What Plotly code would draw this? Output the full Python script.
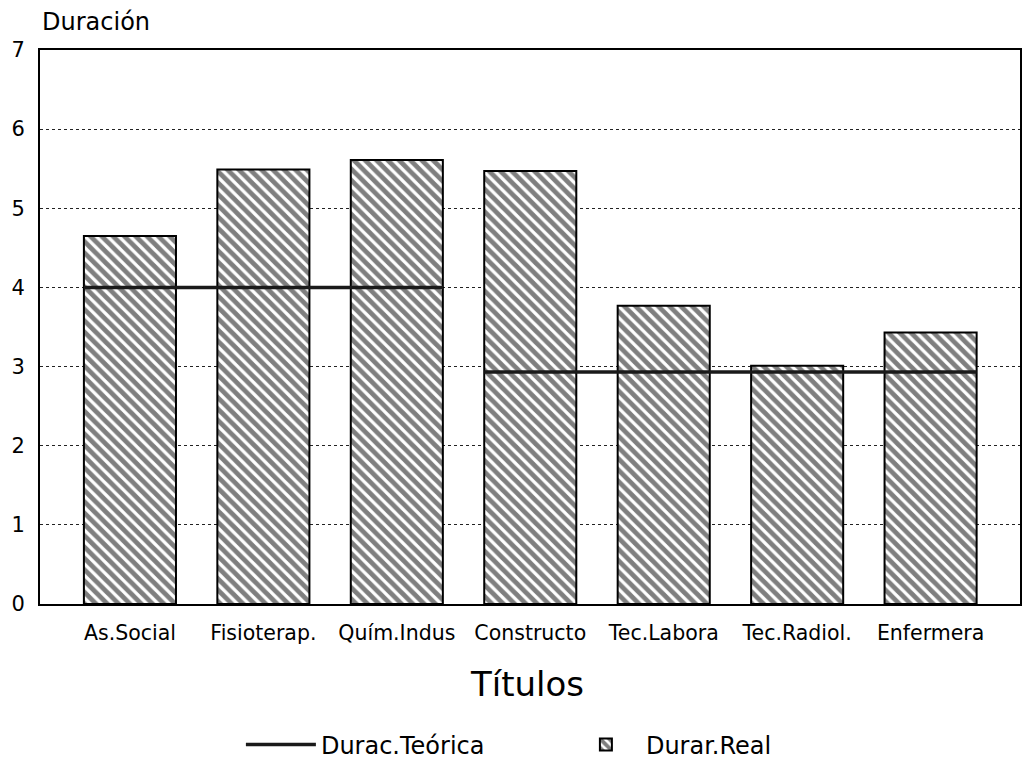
import plotly.graph_objects as go

categorias = ["As.Social", "Fisioterap.", "Quím.Indus", "Constructo", "Tec.Labora", "Tec.Radiol.", "Enfermera"]
durac_real = [4.65, 5.49, 5.61, 5.47, 3.77, 3.01, 3.43]
durac_teorica = [4.0, 4.0, 4.0, 2.93, 2.93, 2.93, 2.93]
y_ticks = [0, 1, 2, 3, 4, 5, 6, 7]

FONT = "DejaVu Sans, Liberation Sans, sans-serif"
bar_w = 0.69
xpos = list(range(len(categorias)))

# step line across bar widths, broken where the value changes
lx, ly = [], []
for i, v in enumerate(durac_teorica):
    if i > 0 and durac_teorica[i - 1] != v:
        lx.append(None)
        ly.append(None)
    lx += [i - bar_w / 2, i + bar_w / 2]
    ly += [v, v]

fig = go.Figure()
fig.add_trace(go.Bar(
    x=xpos, y=durac_real, width=bar_w, name="Durar.Real",
    marker=dict(color="white", line=dict(color="black", width=2),
                pattern=dict(shape="\\", fgcolor="black", bgcolor="white",
                             size=8, solidity=0.6)),
))
fig.add_trace(go.Scatter(
    x=lx, y=ly, mode="lines", name="Durac.Teórica",
    line=dict(color="#1a1a1a", width=3.5), connectgaps=False,
))

fig.update_layout(
    width=1023, height=762,
    paper_bgcolor="white", plot_bgcolor="white",
    margin=dict(l=40, r=3, t=50, b=158, autoexpand=False),
    font=dict(family=FONT, color="black"),
    showlegend=True,
    legend=dict(orientation="h", x=0.205, xanchor="left", y=-0.2545, yanchor="middle",
                font=dict(size=24, family=FONT), traceorder="reversed",
                itemwidth=70, entrywidthmode="pixels", entrywidth=240),
    bargap=0.3,
)
fig.update_xaxes(
    tickmode="array", tickvals=xpos, ticktext=categorias,
    range=[-0.674, 6.67], showgrid=False,
    showline=True, linecolor="black", linewidth=2, mirror=True,
    ticks="", tickfont=dict(size=20.5, family=FONT), ticklabelstandoff=9,
)
fig.update_yaxes(
    range=[0, 7], tickmode="array", tickvals=y_ticks,
    showgrid=True, gridcolor="#222", gridwidth=1, griddash="dot",
    showline=True, linecolor="black", linewidth=2, mirror=True,
    ticks="", tickfont=dict(size=21, family=FONT), ticklabelstandoff=9,
    zeroline=False,
)
fig.add_annotation(text="Duración", xref="paper", yref="paper",
                   x=0.0, y=1.05, xanchor="left", yanchor="middle",
                   showarrow=False, font=dict(size=24, family=FONT))
fig.add_annotation(text="Títulos", xref="paper", yref="paper",
                   x=0.497, y=-0.144, xanchor="center", yanchor="middle",
                   showarrow=False, font=dict(size=34, family=FONT))

fig.write_html("out.html", config={"displayModeBar": False},
               post_script="document.body.style.margin='0';document.body.style.overflow='hidden';")
